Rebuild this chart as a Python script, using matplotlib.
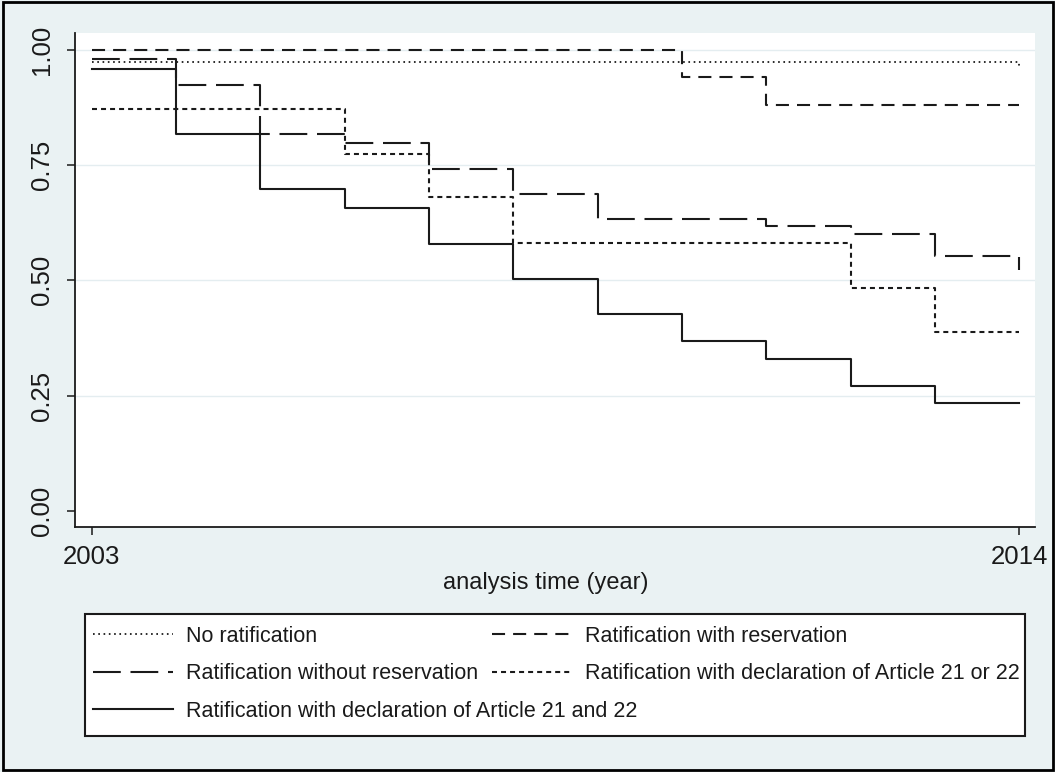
import matplotlib
matplotlib.use("Agg")
import matplotlib.pyplot as plt
from matplotlib.patches import Rectangle
import numpy as np

plt.rcParams['font.family'] = ['Liberation Sans', 'DejaVu Sans']
plt.rcParams['lines.scale_dashes'] = False

bg = '#EAF2F3'
ink = '#1a1a1a'

# Kaplan-Meier style survival estimates
years = [2003, 2004, 2005, 2006, 2007, 2008, 2009, 2010, 2011, 2012, 2013, 2014]
no_ratif = [0.974, 0.974, 0.974, 0.974, 0.974, 0.974, 0.974, 0.974, 0.974, 0.974, 0.974, 0.962]
with_res = [1.000, 1.000, 1.000, 1.000, 1.000, 1.000, 1.000, 0.942, 0.880, 0.880, 0.880, 0.880]
without_res = [0.981, 0.923, 0.817, 0.799, 0.741, 0.688, 0.633, 0.633, 0.618, 0.600, 0.553, 0.522]
art_or = [0.871, 0.871, 0.871, 0.774, 0.680, 0.582, 0.582, 0.582, 0.582, 0.484, 0.387, 0.387]
art_and = [0.958, 0.817, 0.698, 0.658, 0.578, 0.503, 0.427, 0.369, 0.329, 0.271, 0.234, 0.234]

yticks = [0.0, 0.25, 0.5, 0.75, 1.0]
ytick_labels = ['0.00', '0.25', '0.50', '0.75', '1.00']
xticks = [2003, 2014]

W, H = 1055, 772
fig = plt.figure(figsize=(W/100, H/100), dpi=100)
fig.patch.set_facecolor(bg)

ax = fig.add_axes([75/W, 1-527/H, 960/W, 494/H])
ax.set_facecolor('white')

styles = {
    'no': dict(ls=(0, (1.2, 2.6)), lw=1.3),
    'res': dict(ls=(0, (9.4, 5.8)), lw=1.5),
    'wo': dict(ls=(0, (20, 7)), lw=1.5),
    'or': dict(ls=(0, (3.6, 2.9)), lw=1.5),
    'and': dict(ls='-', lw=1.5),
}

h_no, = ax.step(years, no_ratif, where='post', color=ink, **styles['no'])
h_res, = ax.step(years, with_res, where='post', color=ink, **styles['res'])
h_wo, = ax.step(years, without_res, where='post', color=ink, **styles['wo'])
h_or, = ax.step(years, art_or, where='post', color=ink, **styles['or'])
h_and, = ax.step(years, art_and, where='post', color=ink, **styles['and'])

ax.set_xlim(2002.802, 2014.186)
ax.set_ylim(-0.0354, 1.0369)
ax.set_yticks(yticks)
ax.set_yticklabels(ytick_labels, rotation=90, va='center')
ax.set_xticks(xticks)
for t in yticks[1:]:
    ax.axhline(t, color='#E4EDF0', lw=1.0, zorder=0)

for s in ['top', 'right']:
    ax.spines[s].set_visible(False)
for s in ['left', 'bottom']:
    ax.spines[s].set_color(ink)
    ax.spines[s].set_linewidth(1.3)
ax.tick_params(direction='out', length=6, width=1.1, color=ink, labelsize=18.5, labelcolor=ink)
ax.tick_params(axis='y', pad=9)
ax.tick_params(axis='x', pad=7)

fig.text(546/W, 1-583/H, 'analysis time (year)', ha='center', va='center', fontsize=17, color=ink)

# legend box
fig.patches.append(Rectangle((85/W, 1-736/H), 940/W, 122/H, transform=fig.transFigure,
                             facecolor='white', edgecolor=ink, lw=1.5, zorder=1))

leg_kw = dict(frameon=False, fontsize=15.5, handlelength=3.7, handletextpad=0.62,
              labelspacing=0.76, borderpad=0, borderaxespad=0, loc='upper left')
leg_top = 1 - 626/H
leg1 = fig.legend([h_no, h_wo, h_and],
                  ['No ratification', 'Ratification without reservation',
                   'Ratification with declaration of Article 21 and 22'],
                  bbox_to_anchor=(93/W, leg_top), **leg_kw)
leg2 = fig.legend([h_res, h_or],
                  ['Ratification with reservation',
                   'Ratification with declaration of Article 21 or 22'],
                  bbox_to_anchor=(492/W, leg_top), **leg_kw)
for lg in (leg1, leg2):
    lg.set_zorder(2)
    for t in lg.get_texts():
        t.set_color(ink)

# outer frame
fig.patches.append(Rectangle((3/W, 2/H), 1050/W, 768/H, transform=fig.transFigure,
                             facecolor='none', edgecolor='black', lw=2, zorder=3))

fig.savefig('out.png', dpi=100, facecolor=bg)
